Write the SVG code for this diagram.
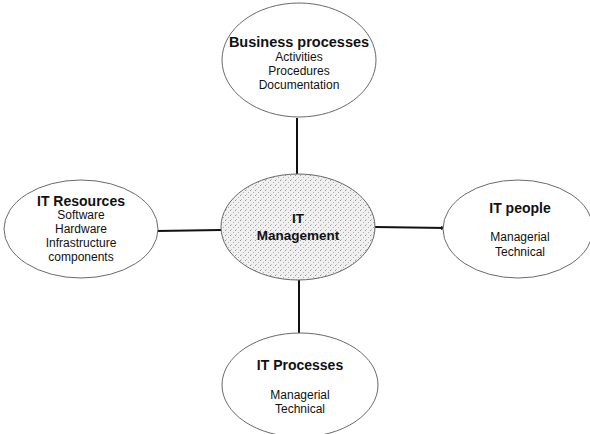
<svg xmlns="http://www.w3.org/2000/svg" width="590" height="434" viewBox="0 0 590 434">
<style>
.el{fill:#fff;stroke:#6a6a6a;stroke-width:1}
.t{font-family:"Liberation Sans",Arial,sans-serif;font-weight:bold;font-size:14px;fill:#111;text-anchor:middle}
.b{font-family:"Liberation Sans",Arial,sans-serif;font-size:12px;fill:#111;text-anchor:middle}
.c{stroke:#111;stroke-width:2;fill:none}
</style>
<defs>
<pattern id="dots" width="5" height="5" patternUnits="userSpaceOnUse">
<rect width="5" height="5" fill="#f0f0f0"/>
<rect x="0" y="0" width="1" height="1" fill="#999"/>
<rect x="3" y="2" width="1" height="1" fill="#b0b0b0"/>
<rect x="1" y="4" width="1" height="1" fill="#c4c4c4"/>
</pattern>
<marker id="arr" markerWidth="6" markerHeight="6" refX="5" refY="3" orient="auto" markerUnits="userSpaceOnUse">
<path d="M0,1 L5,3 L0,5 z" fill="#111"/>
</marker>
</defs>
<g id="connectors">
<line class="c" x1="297" y1="118" x2="297" y2="174"/>
<line class="c" x1="157" y1="231" x2="221" y2="230"/>
<line class="c" x1="375" y1="227" x2="446" y2="228" marker-end="url(#arr)"/>
<line class="c" x1="299" y1="280" x2="299" y2="333"/>
</g>
<g id="business">
<ellipse class="el" cx="299" cy="60" rx="77" ry="57"/>
<text class="t" x="299" y="47" style="font-size:14.5px">Business processes</text>
<text class="b" x="299" y="61">Activities</text>
<text class="b" x="299" y="75">Procedures</text>
<text class="b" x="299" y="89">Documentation</text>
</g>
<g id="management">
<ellipse cx="298" cy="227" rx="77" ry="53" fill="url(#dots)" stroke="#666" stroke-width="1"/>
<text class="t" x="298" y="223" style="font-size:13.5px">IT</text>
<text class="t" x="298" y="240" style="font-size:13.5px">Management</text>
</g>
<g id="resources">
<ellipse class="el" cx="81" cy="229" rx="77" ry="49"/>
<text class="t" x="81" y="206">IT Resources</text>
<text class="b" x="81" y="219">Software</text>
<text class="b" x="81" y="233">Hardware</text>
<text class="b" x="81" y="247">Infrastructure</text>
<text class="b" x="81" y="261">components</text>
</g>
<g id="people">
<ellipse class="el" cx="518" cy="229" rx="75" ry="49"/>
<text class="t" x="520" y="213">IT people</text>
<text class="b" x="520" y="241">Managerial</text>
<text class="b" x="520" y="256">Technical</text>
</g>
<g id="processes">
<ellipse class="el" cx="300" cy="385" rx="78" ry="52"/>
<text class="t" x="300" y="370">IT Processes</text>
<text class="b" x="300" y="399">Managerial</text>
<text class="b" x="300" y="413">Technical</text>
</g>
</svg>
